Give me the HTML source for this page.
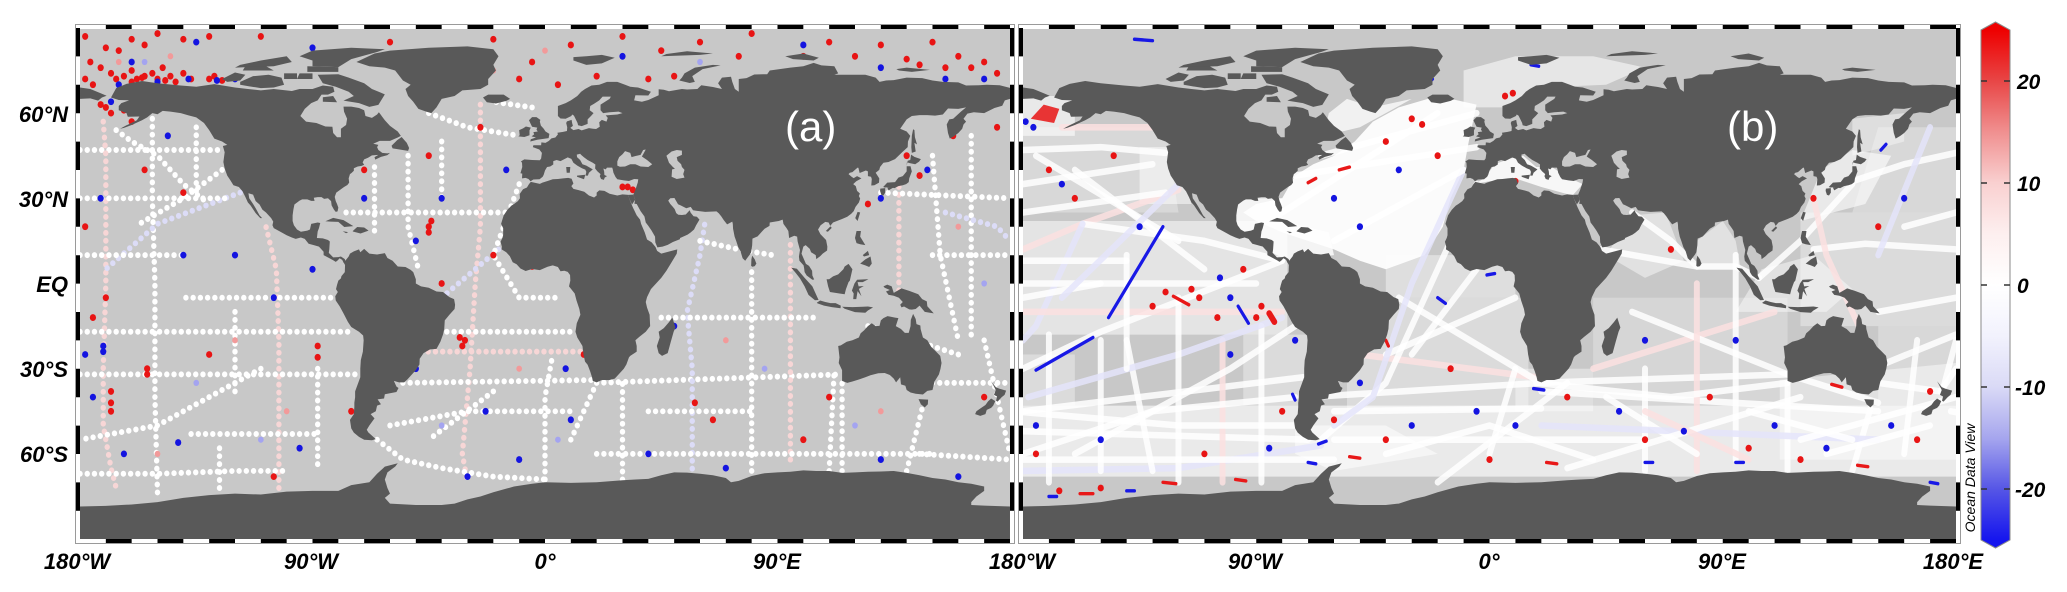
<!DOCTYPE html>
<html><head><meta charset="utf-8"><style>
html,body{margin:0;padding:0;background:#fff;}
body{width:2067px;height:592px;overflow:hidden;}
svg{display:block;}
.d{fill:none;stroke:#fff;stroke-width:2.1;stroke-linecap:round;stroke-linejoin:round;stroke-dasharray:0 2.8;}
.dp{stroke:#f7d6d6;}
.db{stroke:#dcdcf7;}
.w{fill:none;stroke:#fff;stroke-width:2.3;stroke-linecap:round;stroke-linejoin:round;opacity:.85;}
.wp{stroke:#fbe0e0;}
.wb{stroke:#e4e4fa;}
.sr{fill:none;stroke:#e81818;stroke-width:1.2;stroke-linecap:round;}
.sb{fill:none;stroke:#1818e6;stroke-width:1.2;stroke-linecap:round;}
.r circle{fill:#e81414;}
.b circle{fill:#1414e0;}
.pr circle{fill:#f29a9a;}
.pb circle{fill:#a4a4f0;}
.lab{font-family:"Liberation Sans",Arial,sans-serif;font-weight:bold;font-style:italic;font-size:22px;fill:#000;}
</style></head><body>
<svg width="2067" height="592" viewBox="0 0 2067 592" xmlns="http://www.w3.org/2000/svg">
<defs>
<clipPath id="ca"><rect x="80" y="29" width="930" height="510"/></clipPath>
<clipPath id="cb"><rect x="1023" y="29" width="933" height="510"/></clipPath>
<linearGradient id="cg" gradientUnits="userSpaceOnUse" x1="0" y1="30" x2="0" y2="540">
<stop offset="0" stop-color="#ee0000"/>
<stop offset="0.1" stop-color="#e84646"/>
<stop offset="0.2" stop-color="#f09090"/>
<stop offset="0.3" stop-color="#f9d0d0"/>
<stop offset="0.4" stop-color="#fdefef"/>
<stop offset="0.5" stop-color="#ffffff"/>
<stop offset="0.6" stop-color="#f2f2fd"/>
<stop offset="0.7" stop-color="#dadaf6"/>
<stop offset="0.8" stop-color="#a6a6ee"/>
<stop offset="0.9" stop-color="#5656e6"/>
<stop offset="1" stop-color="#1515ee"/>
</linearGradient>
<g id="land" fill="#595959">
<polygon points="-90,68.5 -86,69.7 -82,69.3 -81.5,67.5 -84,66.5 -86.5,66.5 -88,64.5 -90.5,63.5 -93,61.5 -94.7,59 -92.5,57 -88.5,56.5 -85,55.3 -82.3,55.2 -82,53 -80.5,51.5 -79,51.5 -79,54.5 -77,55.8 -76.6,58 -77.8,60.5 -78,62.3 -75,62.3 -72,61.8 -70,61 -69.5,59 -67,58.3 -65,59.5 -64.3,60.3 -62,57.5 -60,55.5 -57,53.5 -55.8,52 -57,51.4 -60,50.2 -64,50.2 -66.5,49.2 -64.5,48.8 -65,48 -64.5,47 -63,46 -61,45.8 -60,46 -61,45.2 -63.5,44.6 -65.7,43.6 -66,44.5 -64.5,45.3 -67,45.1 -68.5,44.3 -70,43.7 -70.6,42.6 -70,41.8 -71,41.4 -72.5,41.2 -74,40.6 -74,39.7 -74.9,38.9 -75.5,38.5 -76,37 -75.8,35.5 -76.5,34.7 -77.8,34 -79,33.2 -80.8,32 -81.4,30.5 -81,29 -80.5,28 -80,26.7 -80.3,25.4 -81,25.2 -81.7,26 -82.6,27.5 -82.8,29 -84,30 -85.5,29.8 -86.5,30.4 -88,30.4 -89.5,30.2 -89.2,29.1 -90.5,29.1 -92,29.6 -94,29.6 -95,29.2 -97,27.8 -97.4,26 -97.7,24 -97.7,22 -97.2,20.5 -96,19 -94.5,18.2 -92,18.6 -91,19 -90.5,21 -88,21.5 -87,21.3 -87.5,19.5 -88,18.3 -88.3,16 -86,15.9 -84,15.3 -83.3,14.8 -83.5,12 -83.7,10.8 -82,9.2 -80,9.3 -79,9.5 -77.5,8.6 -77.3,8 -77.9,7.2 -78.5,8.3 -79.5,8.9 -80.3,8.1 -81,7.6 -82,8.2 -83.6,9 -85.7,10 -85.7,11.2 -87.5,13 -89.5,13.5 -91.5,14 -93,15.7 -94.5,16.2 -96.5,15.7 -98,16.2 -100,17 -102,18 -105,19.5 -105.5,20.5 -105.2,21.8 -106,23 -108,25 -109.4,26 -110.5,27.8 -112,29 -113,31.3 -114.8,31.8 -114.5,30 -113,28 -112,26.5 -110.5,24 -109.5,23 -110.2,23 -112,24.8 -114,27.5 -115,28.5 -116,30.5 -117.1,32.5 -118.5,34 -120.6,34.6 -121.9,36.5 -123,38 -124,40.5 -124.5,42.8 -124,46.2 -124.7,48.4 -123,48.8 -125,50 -128,51 -130,54 -132,56.5 -135,58.5 -138,59.2 -141,60 -145,60.5 -148,60.8 -150,59.6 -152,60 -154,58.5 -156,57.5 -160,55.8 -163,54.8 -164.5,54.5 -162,55.7 -158,57.5 -157,58.8 -161.5,58.7 -162,60 -165,61 -165,62.5 -164,63.5 -161,64.5 -165,64.6 -168,65.5 -166,68.8 -162,70.3 -156,71.3 -150,70.5 -141,69.7 -135,69.3 -128,70.2 -120,69 -115,68.5 -110,68 -105,68.5 -98,67.8 -95,68.5"/>
<polygon points="-73,78 -66,81 -60,82 -45,83 -30,83.5 -20,82.5 -18,80 -20,77 -19,75 -22,72 -22,70 -25,68.5 -32,68 -35,66 -40,65 -42,62 -44,60 -46,60.5 -49,61.5 -51,64 -53,66 -54,68.5 -52,70 -55,71.5 -58,75 -62,76 -68,76.5"/>
<polygon points="-64.5,62.9 -62,66.6 -67,68.5 -70,70.5 -76,72.5 -80,73.7 -88,73.5 -86,70.5 -81,69.3 -76,67.5 -74,66 -78,64.4 -72,63.5 -68,62.2"/>
<polygon points="-86,64 -80.5,63.8 -82,66 -86,65.6"/>
<polygon points="-118,71 -113,73 -107,73.5 -102,72.5 -101,70 -105,69 -110,68.8 -115,69.5 -118,70"/>
<polygon points="-125,72 -120,74.3 -116,73.5 -118,71.5 -123,71"/>
<polygon points="-90,76.5 -80,76.2 -75,79 -65,81.5 -62,82.5 -75,83 -90,82 -95,80 -90,78.5"/>
<polygon points="-92,74.5 -80,74.5 -80,76.2 -92,76.5"/>
<polygon points="-120,76 -105,76.5 -98,78 -100,80 -110,78.5 -118,77"/>
<polygon points="-117,75 -105,75 -108,76.5 -116,76.5"/>
<polygon points="-101,72 -96,72 -96,74 -101,74"/>
<polygon points="-96,72 -90,72 -90,74 -95,74"/>
<polygon points="-59,47.6 -53,46.7 -52.6,47.7 -53.5,49.5 -55.5,51.6 -57.2,50.5 -59.4,48.5"/>
<polygon points="-24,65.5 -22,66.5 -16,66.5 -13.5,65 -15,64.3 -19,63.4 -22.5,63.8"/>
<polygon points="-85,21.9 -82,23.1 -78,22.3 -74.2,20.2 -77.7,19.9 -80,21.7 -83,21.8"/>
<polygon points="-74.4,18.5 -72.7,19.9 -70,19.7 -68.3,18.6 -71.4,17.6 -74.4,18.3"/>
<polygon points="-78.3,18.4 -76.2,18.1 -77,17.7"/>
<polygon points="-77.3,8 -76,9.5 -75.5,10.5 -74,11.3 -72,12 -71.5,11 -70,12.2 -68,10.5 -65,10.2 -62,10.7 -61,9 -59,8 -57,6 -54,5.8 -52,4.8 -51,4 -50,1.5 -50,0 -48,-1 -45,-1.5 -42,-2.8 -39.5,-3 -37,-4.8 -35.2,-5.5 -34.8,-7.5 -35,-9 -37,-11 -38.8,-13 -39,-16 -39.5,-18 -40.5,-20.5 -42,-23 -44.5,-23.2 -47,-24.5 -48.5,-26.5 -48.6,-28.5 -50,-30.5 -51.5,-32 -53.2,-33.7 -54.5,-34.8 -56.5,-34.8 -58.5,-34.3 -57.5,-36.3 -56.7,-36.8 -57.5,-38.2 -62,-39 -62.3,-40.5 -64.8,-40.8 -63.5,-42.5 -65,-43 -65.5,-45 -67.5,-46 -66,-47.5 -68,-50 -69,-51.5 -68.4,-52.4 -65.5,-54.8 -67,-55.2 -70,-55 -72,-54 -74,-52.5 -75,-51 -75.5,-48 -74,-46 -73.8,-43.5 -73.8,-42 -73.5,-40 -73.5,-38 -71.5,-33 -71.5,-30 -71.3,-27 -70.5,-24 -70.2,-20 -70.4,-18.3 -72,-17 -75,-15.3 -76.3,-13.5 -78,-10.5 -79.5,-8 -81,-6 -81.2,-4.5 -80.2,-3 -80.9,-2 -80.5,-0.5 -80,1 -79,1.8 -78.8,2.6 -77.5,4 -77.4,6.5 -78,7.5"/>
<polygon points="-17.2,14.7 -16.7,13 -16.8,12 -15,11 -13.6,9.6 -12.5,7.5 -11,6.8 -9.5,5.3 -7.5,4.4 -5,5.1 -2,4.7 1,5.9 3,6.4 5,5.8 6,4.3 7.5,4.5 8.8,4.1 9.7,3 9.8,1 9.3,-1 11.5,-3.5 12.2,-6 13.3,-9 13.7,-11 12.3,-14 11.8,-17 12.5,-19 14.5,-22 14.9,-25 15.5,-27.5 16.5,-28.6 17.5,-31 18.2,-33 18.5,-34.3 20,-34.8 22,-34 25,-34 27,-33.5 29,-31.5 30.5,-30 31.5,-28.5 32.5,-26 33,-25.5 35.5,-24 35.5,-22 35,-20 36.5,-18.8 39,-17 40.7,-15 40.5,-11 39.5,-8.5 39,-6.5 39.5,-4.8 41,-2 42.5,-0.5 45,2 47,4.5 49,7.5 51,10.5 51.2,12 49,11.5 45,10.5 43.4,11.5 42.8,12.8 41.3,14.5 39.5,15.5 38.6,18 37.2,21 36.8,22.5 35.5,24 34,26.8 32.6,29.9 32.3,31.2 30,31.4 28,31 25,31.6 23,32.6 21,32.8 20,32 20,31 19,30.3 17,31 15.2,32.3 13,32.9 11,33.3 10.2,34.3 11,35.2 10.3,36.9 9,37.2 7,37 5,36.8 3,36.7 1,36.1 -1,35.5 -2,35.1 -5.5,35.8 -6.2,35 -7,33.8 -8.5,33.2 -9.8,31.5 -9.7,30 -10.5,29 -12,28 -13,27.4 -14.5,26 -16,24 -17,21 -16.2,19.5 -16.2,17 -16.5,16"/>
<polygon points="32.3,31.2 32.6,29.9 33.7,27.8 34.9,29.5 34.2,31.3"/>
<polygon points="49.3,-12 50.5,-15.5 49.8,-17 48.7,-20.5 47.5,-24.5 45.3,-25.5 44,-24.5 43.3,-22 44.4,-19 44,-17 46,-15.7 48,-13.6"/>
<polygon points="-5.6,36 -6.4,36.8 -7.5,37.2 -8.9,37 -8.8,38.7 -9.5,38.8 -8.8,41 -8.9,42.5 -9.3,43 -8,43.7 -5,43.5 -2,43.4 -1.5,44 -1.2,46 -2.2,47.2 -4.7,48 -4.5,48.7 -1.5,48.7 -1.4,49.7 0.2,49.5 1.5,50.2 2.5,51.1 4,51.4 5,52.5 4.8,53.1 7,53.4 8.5,53.7 8.6,55 8.2,56.5 8.5,57.1 10.3,57.6 10.5,56.5 10.8,55.5 9.8,54.8 11,54 13,54.4 14.2,53.9 17,54.7 18.6,54.5 19.8,54.4 21.2,55.2 21,56.8 22,57.6 23.8,57 24.3,58.3 23.5,59.2 28,59.5 30,60 28.5,60.5 25,60.3 22.5,60 21.5,61 21.5,63 25,65 25.5,65.8 22.3,65.8 21,64.5 19,63.3 17.5,62.5 17.3,61 18.8,60 17.8,59 16.5,57.8 16.5,56.2 14.2,55.4 12.8,55.7 12.6,56.5 11.8,58 11.2,59.1 10.5,59.5 10.2,59 8,58 6,58.1 5,59 5,61 5,62.5 8,63.5 10,64.5 12.5,66 14,67.5 15.5,68.5 18,69.7 21,70 24,71 28,71 31,70 33,69.3 36,69 41,67.5 40,66.2 35,66.3 34.5,64.5 37.5,64 40,64.6 44,66.3 44,68.4 46,68.2 48,67.7 53,68.5 55,68.3 59,68.5 60.5,69.8 65,69.2 68.5,68.5 67,70.5 68.5,72.5 72,72.8 72.5,71 73.5,68.5 75,67.5 75,72 78,72.3 81,73.6 86,73.7 87,75 95,76 100,76.5 104,77.7 107,76.8 112,76.5 113.5,74 112,73.5 118,73.5 124,73.5 128,72.5 129.5,71 132,71.5 135,71.6 140,72.5 146,72.3 150,71.5 154,71 160,70.8 163,69.7 168,69.8 171,70 176,69.8 180,68.9 180,65 178,64.5 177,62.6 174,61.8 170,60 166,60.3 163.5,59.8 162,58 163,57 162,56 161.5,54.5 160,53 158.5,52 156.7,51 156,53 155.5,56 156.5,57.8 158,58 161,60.5 163,62 160,61.5 156,61.6 154,59.5 151,59.1 148,59.3 145,59.3 142,59 140,57.8 137.5,54.5 140,53.5 141.4,52 140.5,50 140.4,48 138,46 135.5,43.8 133,42.8 131,42.5 129.7,41 129.4,40 128,39 129.4,37 129.3,35.5 127.5,34.6 126.3,34.5 126.5,36.8 126.2,37.6 125,37.8 125,39.5 124.2,39.8 121.8,38.9 121.3,40.8 122.3,40.5 121,40.8 119,39.2 118,39 117.5,38.5 118.8,37.5 119.5,37.1 120.8,37.8 122.5,37 120.5,36 119.3,35 120.3,34.3 120.8,32.6 121.9,31.7 121.5,30.8 122,29.9 121.5,28.5 120.2,27 119.5,25.5 118.5,24.5 117,23.5 115,22.7 113.5,22.2 111.5,21.5 110.4,20.3 109.8,21.5 108.5,21.7 106.7,20.5 105.7,19 106.6,17.4 108.8,15.3 109.3,13 109.2,11.6 107.5,10.5 106.5,9.6 105,8.6 104.8,10 103,11 102.5,12.2 100.9,13.5 100,13 99.3,10.5 100.3,8.4 101,6.9 102.2,6.2 103.4,4.5 103.5,2.8 104.2,1.4 103.5,1.3 101.3,2.8 100.5,4 100.3,5.4 100.1,6.4 98.5,8 98.3,9.5 98.7,11.8 97.8,14.8 97.6,16.5 96.5,16.8 94.5,16 94.2,18.5 93.5,19.5 92.3,21 92,22.5 90.5,22 89,21.8 87,21.5 86.9,20.3 85,19.3 82.3,16.6 80.3,15.8 80.2,13.5 79.8,11 79.3,10.2 78.2,8.9 77.5,8 76.5,8.9 75.7,11.3 74.8,12.8 74,15 73.4,16.5 72.8,19.3 72.7,21 72.5,21.8 70.5,20.8 69.2,22.3 68.2,23.7 67.3,24.7 66.4,25.4 62,25.2 58.5,25.6 57.3,25.8 56.4,27 54.7,26.5 52.5,27.5 51.5,27.9 50.1,30.1 48.5,30 47.7,29.2 48.5,28 49.5,27 50.2,26.2 50.8,24.8 51.6,24.2 53,24.1 54.5,24.3 56,25.8 56.4,24.9 57.5,23.7 58.8,23.5 59.8,22.5 58.5,20.5 57.7,19 56.3,17.9 55.2,17.2 52.3,16 52.2,15.6 49.5,14.6 47.5,13.6 45.5,13 43.5,12.7 42.7,14.5 42.6,16.5 41.2,18.7 40,20.3 39,21.5 38.5,23.6 37,25.5 35.5,28 34.6,28.1 34.9,29.5 34.2,31.3 35,33 35.9,35.5 36.1,36.7 34.5,36.8 32.5,36.1 30.5,36.3 28,36.7 27.3,37.5 26.5,39 26.2,40.3 26,40.8 24,40.8 23.5,40.2 22.6,40.5 22.9,39.4 23,38.2 24,37.8 23.1,37.3 22.8,36.5 21.7,36.8 21.2,37.8 21.5,38.5 20.3,39.5 19.4,40.5 19.5,41.9 18.5,42.5 16.5,43.5 15,44.5 14,45.3 13.6,45.7 12.3,45.4 12.4,44.5 13.6,43.5 14.5,42 16,41.5 18.5,40.2 17,39 16.6,38 15.7,38 16,39.3 15.6,40.1 14.3,40.6 12.5,41.5 11,42.5 10.2,43.9 8.8,44.4 7.5,43.8 6,43.1 4.5,43.5 3.2,43.1 3.2,41.9 2,41.2 0.8,41 0,39.8 -0.5,38.3 -0.9,37.6 -2.1,36.7 -4.5,36.6"/>
<polygon points="-180,69 -176,68.5 -172,67 -169.7,66.1 -171.5,65.5 -173,64.4 -176,65.2 -180,65"/>
<polygon points="12.4,38 15.6,38.3 15.1,36.7 12.4,37.6"/>
<polygon points="8.2,41 9.8,41 9.6,39 8.4,39"/>
<polygon points="-5.7,50 -3,50.6 1.4,51.2 1.7,52.7 0.2,53.5 -0.5,54.5 -1.6,55.6 -2,57 -1.8,57.6 -3.3,58.6 -5,58.6 -6.2,57.5 -5.6,56.3 -5,55.2 -3,54.9 -3.3,54.2 -2.8,53.5 -4.5,53.3 -4.2,52.5 -5.2,51.8 -3.5,51.4 -5.5,50.8"/>
<polygon points="-6,52.2 -6,53.9 -5.5,54.9 -7.4,55.3 -8.5,54.6 -10,54 -9.8,52.2 -10.3,51.8 -8,51.6"/>
<polygon points="11,78.5 16,77 22,77.5 27,79.5 22,80.5 16,80 11,79.7"/>
<polygon points="52,71.5 56,70.6 58,71 57,73 61,75.5 68,76.8 65,77 58,76 54,74 53,72.5"/>
<polygon points="96,79 104,78.5 106,79.5 100,81 93,80"/>
<polygon points="137,75 142,74.5 149,75.2 140,76 136,75.5"/>
<polygon points="45,80 60,80.5 65,81 55,81.8 47,80.8"/>
<polygon points="142,46 143.5,46.5 143,49.5 144,49 143.2,51.5 143,54 142.5,54.3 142,52 141.8,48"/>
<polygon points="130.9,34 132.5,35.5 135.5,35.7 136.8,37.3 138.5,37.8 140,39.5 140,41.3 141.5,41.3 142,39.5 141,37 140.8,35.7 139.8,35 138.5,34.6 136.8,34.3 135.3,33.6 133.5,33.9 131.5,33.8"/>
<polygon points="129.8,33.4 131.7,33.6 131.7,32 131,31 130.2,31.2 129.7,32.6"/>
<polygon points="132.5,33.8 134.6,34.2 134.7,33.7 133,32.8"/>
<polygon points="140,41.5 140.4,43.2 141.4,43.5 141.7,45.4 143,44.6 145.5,43.8 144.8,42.9 143.3,42 141.2,42.4 140.1,42.7"/>
<polygon points="120.1,23 121,25.2 122,25 121,22"/>
<polygon points="108.7,18.5 110.5,20.1 111,19.6 109.5,18.2"/>
<polygon points="120,16 120.6,18.5 122.3,18.5 122,16.5 124,13.5 122,13.8 120.6,14.2"/>
<polygon points="122,7 124,8.5 126,9.5 126.5,7 125.5,5.8 124,6.4"/>
<polygon points="123,10 125,11.5 125.5,10 123.5,9.5"/>
<polygon points="109,1.5 109.6,-1 110.3,-3 114,-3.5 116,-3.8 116.5,-2 117.5,0.5 118,1 119,5 117.5,6.9 116,6 115.5,5 113.5,3.2 111.5,2.5 110,1.5"/>
<polygon points="95.3,5.6 97.5,5.2 100.5,2 103.5,-1 105.9,-5.8 104.5,-5.9 102,-4 100.5,-1 98.7,1.8 97,3.8"/>
<polygon points="105.2,-6.8 106.5,-6 108.5,-6.5 110.5,-6.9 112.5,-6.9 114.5,-7.8 114.4,-8.7 111,-8.3 108,-7.8 105.5,-7"/>
<polygon points="119.3,-5.5 119.5,-3.5 118.8,-2.5 119.8,0 120.8,1.3 124.5,1.5 125.2,1.5 123,0.5 121,0.5 121.4,-1 123.4,-0.9 121.5,-1.9 122.5,-4.5 121,-2.7 120.5,-5.5"/>
<polygon points="115,-8.2 119,-8.3 123,-8.2 125,-8.1 127,-8.4 125,-9.5 124,-10.3 120,-10.1 116,-8.9"/>
<polygon points="131,-1 132.5,-0.4 134.2,-1 135,-3.3 138,-1.7 141,-2.6 144.5,-3.8 146,-5.5 147.8,-6.3 148,-8 150.5,-10.5 149,-10.3 147,-10 145,-7.8 143.5,-9 142,-9.2 141,-9.1 139,-8.1 138,-8.4 137.5,-7.5 138.5,-6.5 137,-5 135,-4.3 133,-4 132,-2.8 133.5,-2.3 131.5,-1.5"/>
<polygon points="79.8,6.2 79.9,8.5 80.2,9.8 81.2,8.5 81.8,7 81.2,6.1 80.3,5.9"/>
<polygon points="113.5,-22 114,-26 113.7,-28 115,-30.5 115,-33.5 115,-34.3 117,-35 119,-34.5 121.5,-33.8 124,-33 126,-32.3 129,-31.6 131.5,-31.5 133.5,-32.2 135,-33.5 135.9,-34.8 137.5,-33 137.8,-35.5 139.5,-36 140,-37.5 141.5,-38.4 143.5,-38.8 146.3,-39.1 148,-37.8 150,-37.5 150.8,-34.5 152.5,-32 153.1,-30 153.5,-28 153,-25.5 151.2,-23.8 149.5,-22.3 148,-20 146.3,-19 145.4,-16 145.3,-14.8 143.8,-14.3 143.5,-12.5 142.5,-10.7 141.6,-12.8 141.5,-15 140.8,-17.4 139.3,-17.4 137.8,-16 135.8,-15 136.8,-12.2 135.5,-12 132.6,-11.5 131,-12.2 130,-13 129.5,-14.9 128,-15 126.5,-14 125,-15 123.5,-16.5 122.2,-17.5 121.5,-19 119,-20 116.8,-20.5 114.5,-21.8"/>
<polygon points="144.6,-40.7 148.3,-40.9 148.2,-42.5 147,-43.6 145.5,-42.5"/>
<polygon points="172.7,-34.4 174.5,-36.5 175.8,-37 178.5,-37.7 177.9,-39.2 176.8,-40 175.2,-41.6 174.6,-41.3 175,-39.8 173.8,-39.2 174.5,-37.5"/>
<polygon points="172.7,-40.5 174.3,-41.4 173.5,-43 172.7,-43.8 171,-44.5 170.5,-46 168.5,-46.6 166.5,-46 167,-45 168.5,-44 170.5,-42.8 171.5,-41.5"/>
<polygon points="-180,-78.5 -170,-78.3 -160,-77.8 -150,-77 -140,-75.5 -130,-74.5 -120,-74 -110,-74.3 -100,-73.3 -90,-73 -80,-73 -75,-71 -68,-70 -65,-67 -62,-64.5 -57,-63.3 -58,-64.5 -61,-66.5 -62,-69 -61,-72 -60,-74 -62,-75.5 -60,-77.5 -50,-78 -40,-78 -35,-77.5 -30,-76 -25,-75 -20,-73.5 -12,-71.5 -5,-70.5 0,-70 10,-70.2 20,-70 30,-69.3 35,-69 40,-68.8 45,-67.5 50,-66.5 55,-66.6 60,-67 65,-67.5 70,-68.5 72,-70 75,-69.5 80,-67.8 85,-66.8 90,-66.5 95,-66.3 100,-65.8 105,-66 110,-66 115,-66.7 120,-66.5 125,-66.3 130,-66.2 135,-66 140,-66.7 145,-67.5 150,-68.5 155,-69 160,-70 165,-70.5 170,-71.5 170,-73 167,-75 165,-77 165,-78 170,-78.2 180,-78.5 180,-90 -180,-90"/>
</g>
<g id="seas" fill="#c8c8c8">
<polygon points="28,41.5 28,43 28.7,44.5 30,45.5 31,46.6 33,46 33.5,44.5 35.5,45 37,45.3 38,47 39,47.2 38,45.5 37.5,44.7 39.5,43.5 41.5,42 40,41 37,41.2 35,42 33,42 31,41.2 29,41.1"/>
<polygon points="47,45 49,46.5 51,47 53,46.8 53,45.3 51,44.5 51.3,43.2 52.7,42 53,41 54,40 53.5,38.5 54,37.3 51,36.8 49,37.6 49.2,40.2 50.3,40.4 49.5,41 48,42.5 47.5,43.8"/>
</g>
</defs>

<!-- ================= PANEL A ================= -->
<rect x="76" y="25" width="938" height="518" fill="#fff"/>
<rect x="80" y="29" width="930" height="510" fill="#c8c8c8"/>
<g clip-path="url(#ca)">
<g transform="translate(545,283.5) scale(2.5833,-2.84)">
<g>
<path class="d" d="M-180 47L-125 47"/>
<path class="d dp" d="M-171 57L-170 45L-170 20L-170 0L-171 -30L-171 -50L-168 -65L-166 -72"/>
<path class="d" d="M-152 58L-152 30L-151 0L-151 -40L-150 -74"/>
<path class="d" d="M-135 55L-135 30"/>
<path class="d" d="M-126 -58L-126 -72"/>
<path class="d dp" d="M-103 -72L-103 -40L-103 -20L-104 5L-108 20"/>
<path class="d" d="M-180 -67L-150 -67L-120 -66L-100 -66"/>
<path class="d" d="M-180 -32L-72 -32"/>
<path class="d" d="M-180 -17L-76 -17"/>
<path class="d" d="M-125 40L-140 30L-157 21"/>
<path class="d db" d="M-118 32L-150 21L-170 5"/>
<path class="d" d="M-166 54L-160 50L-150 45L-140 35L-130 28"/>
<path class="d" d="M-180 10L-140 10"/>
<path class="d" d="M-88 -30L-88 -66"/>
<path class="d" d="M-83 -5L-140 -5"/>
<path class="d" d="M-110 -30L-150 -50L-180 -55"/>
<path class="d" d="M-120 -10L-120 -40"/>
<path class="d" d="M-137 -53L-87 -53"/>
<path class="d" d="M-180 30L-122 30"/>
<path class="d dp" d="M-25 63L-25 40L-25 20L-27 0L-29 -30L-32 -60L-30 -70"/>
<path class="d" d="M-66 41L-66 18"/>
<path class="d" d="M-53 45L-53 20L-49 5"/>
<path class="d" d="M-77 25L-15 25"/>
<path class="d" d="M-38 -17L12 -17"/>
<path class="d dp" d="M-48 -24L14 -24"/>
<path class="d" d="M-55 -35L18 -34"/>
<path class="d" d="M-65 -55L-55 -62L-40 -65L-20 -68L0 -69"/>
<path class="d" d="M0 -69L0 -40L3 -25"/>
<path class="d" d="M10 -55L20 -35"/>
<path class="d" d="M-45 60L-30 55L-10 52"/>
<path class="d db" d="M-18 12L-40 -5"/>
<path class="d" d="M-20 -38L-45 -55"/>
<path class="d" d="M-5 62L-20 64"/>
<path class="d" d="M-40 50L-40 28"/>
<path class="d" d="M-60 -50L-30 -45L10 -45"/>
<path class="d" d="M-10 35L-20 10L-10 -5L5 -5"/>
<path class="d" d="M20 -35L115 -32"/>
<path class="d db" d="M57 -68L57 -30L55 -10L60 10L62 22"/>
<path class="d" d="M80 -66L80 5"/>
<path class="d dp" d="M95 -62L95 15"/>
<path class="d" d="M110 -66L112 -30"/>
<path class="d" d="M45 -12L105 -12"/>
<path class="d" d="M30 -69L30 -35"/>
<path class="d" d="M140 -66L146 -44"/>
<path class="d" d="M115 -66L115 -35"/>
<path class="d" d="M20 -60L150 -60"/>
<path class="d" d="M40 -45L80 -45"/>
<path class="d dp" d="M137 34L137 -3"/>
<path class="d" d="M150 45L153 10L160 -20"/>
<path class="d" d="M165 52L165 -20"/>
<path class="d" d="M170 -20L175 -40L180 -60"/>
<path class="d" d="M150 -35L180 -35"/>
<path class="d" d="M130 32L180 30"/>
<path class="d" d="M150 10L180 10"/>
<path class="d" d="M145 -60L180 -62"/>
<path class="d db" d="M155 25L175 20L180 15"/>
<path class="d" d="M60 15L75 12L88 10"/>
<path class="d" d="M125 -15L160 -25"/>
</g>
<g class="r">
<circle cx="-178" cy="87" r="1.2"/><circle cx="-170" cy="83" r="1.2"/><circle cx="-165" cy="82" r="1.2"/><circle cx="-160" cy="86" r="1.2"/><circle cx="-155" cy="84" r="1.2"/><circle cx="-150" cy="88" r="1.2"/><circle cx="-140" cy="86" r="1.2"/><circle cx="-130" cy="87" r="1.2"/><circle cx="-176" cy="78" r="1.2"/><circle cx="-172" cy="76" r="1.2"/><circle cx="-168" cy="74" r="1.2"/><circle cx="-166" cy="72" r="1.2"/><circle cx="-163" cy="73" r="1.2"/><circle cx="-160" cy="75" r="1.2"/><circle cx="-158" cy="72" r="1.2"/><circle cx="-155" cy="73" r="1.2"/><circle cx="-152" cy="74" r="1.2"/><circle cx="-150" cy="72" r="1.2"/><circle cx="-148" cy="76" r="1.2"/><circle cx="-145" cy="73" r="1.2"/><circle cx="-143" cy="71" r="1.2"/><circle cx="-140" cy="74" r="1.2"/><circle cx="-137" cy="72" r="1.2"/><circle cx="-130" cy="72" r="1.2"/><circle cx="-128" cy="73" r="1.2"/><circle cx="-125" cy="71.5" r="1.2"/><circle cx="-175" cy="70" r="1.2"/><circle cx="-178" cy="72" r="1.2"/><circle cx="-174" cy="66" r="1.2"/><circle cx="-170" cy="62" r="1.2"/><circle cx="-168" cy="60" r="1.2"/><circle cx="-172" cy="63" r="1.2"/><circle cx="-163" cy="61" r="1.2"/><circle cx="-160" cy="71" r="1.2"/><circle cx="-156" cy="72.5" r="1.2"/><circle cx="-147" cy="71.5" r="1.2"/><circle cx="-110" cy="87" r="1.2"/><circle cx="-60" cy="85" r="1.2"/><circle cx="-20" cy="86" r="1.2"/><circle cx="10" cy="84" r="1.2"/><circle cx="30" cy="87" r="1.2"/><circle cx="45" cy="82" r="1.2"/><circle cx="60" cy="85" r="1.2"/><circle cx="80" cy="88" r="1.2"/><circle cx="110" cy="85" r="1.2"/><circle cx="120" cy="80" r="1.2"/><circle cx="130" cy="84" r="1.2"/><circle cx="140" cy="79" r="1.2"/><circle cx="150" cy="85" r="1.2"/><circle cx="160" cy="80" r="1.2"/><circle cx="165" cy="76" r="1.2"/><circle cx="170" cy="78" r="1.2"/><circle cx="175" cy="74" r="1.2"/><circle cx="155" cy="76" r="1.2"/><circle cx="145" cy="77" r="1.2"/><circle cx="100" cy="80" r="1.2"/><circle cx="75" cy="80" r="1.2"/><circle cx="-5" cy="78" r="1.2"/><circle cx="-10" cy="72" r="1.2"/><circle cx="5" cy="70" r="1.2"/><circle cx="20" cy="73" r="1.2"/><circle cx="40" cy="72" r="1.2"/><circle cx="50" cy="73" r="1.2"/>
<circle cx="-140" cy="32" r="1.2"/><circle cx="-178" cy="20" r="1.2"/><circle cx="-170" cy="-5" r="1.2"/><circle cx="-155" cy="40" r="1.2"/><circle cx="-130" cy="-25" r="1.2"/><circle cx="-168" cy="-38" r="1.2"/><circle cx="-168" cy="-42" r="1.2"/><circle cx="-168" cy="-45" r="1.2"/><circle cx="-88" cy="-22" r="1.2"/><circle cx="-88" cy="-26" r="1.2"/><circle cx="-31" cy="-20" r="1.2"/><circle cx="-32" cy="-22" r="1.2"/><circle cx="-33" cy="-19" r="1.2"/><circle cx="-45" cy="-5" r="1.2"/><circle cx="-47" cy="-3" r="1.2"/><circle cx="-20" cy="10" r="1.2"/><circle cx="-5" cy="6" r="1.2"/><circle cx="32" cy="34" r="1.2"/><circle cx="34" cy="33" r="1.2"/><circle cx="30" cy="34" r="1.2"/><circle cx="-75" cy="-45" r="1.2"/><circle cx="-105" cy="-68" r="1.2"/><circle cx="65" cy="-48" r="1.2"/><circle cx="110" cy="-40" r="1.2"/><circle cx="150" cy="-30" r="1.2"/><circle cx="170" cy="-40" r="1.2"/><circle cx="-175" cy="-12" r="1.2"/><circle cx="140" cy="45" r="1.2"/><circle cx="145" cy="38" r="1.2"/><circle cx="158" cy="52" r="1.2"/><circle cx="175" cy="55" r="1.2"/><circle cx="-160" cy="57" r="1.2"/><circle cx="-70" cy="40" r="1.2"/><circle cx="-45" cy="45" r="1.2"/><circle cx="-25" cy="55" r="1.2"/><circle cx="-40" cy="0" r="1.2"/><circle cx="15" cy="-25" r="1.2"/><circle cx="125" cy="28" r="1.2"/><circle cx="58" cy="-42" r="1.2"/><circle cx="100" cy="-55" r="1.2"/><circle cx="-45" cy="20" r="1.2"/><circle cx="-45" cy="18" r="1.2"/><circle cx="-44" cy="22" r="1.2"/><circle cx="-154" cy="-30" r="1.2"/><circle cx="-154" cy="-32" r="1.2"/>
</g>
<g class="b">
<circle cx="-165" cy="70" r="1.2"/><circle cx="-150" cy="71" r="1.2"/><circle cx="-138" cy="72" r="1.2"/><circle cx="-127" cy="71.5" r="1.2"/><circle cx="-120" cy="72" r="1.2"/><circle cx="-176" cy="67" r="1.2"/><circle cx="-168" cy="64" r="1.2"/><circle cx="-160" cy="78" r="1.2"/><circle cx="-135" cy="85" r="1.2"/><circle cx="-90" cy="83" r="1.2"/><circle cx="30" cy="80" r="1.2"/><circle cx="-30" cy="80" r="1.2"/><circle cx="100" cy="84" r="1.2"/><circle cx="130" cy="76" r="1.2"/><circle cx="155" cy="72" r="1.2"/><circle cx="170" cy="72" r="1.2"/><circle cx="-172" cy="30" r="1.2"/><circle cx="-146" cy="52" r="1.2"/><circle cx="-105" cy="-5" r="1.2"/><circle cx="-120" cy="10" r="1.2"/><circle cx="-163" cy="-60" r="1.2"/><circle cx="-142" cy="-56" r="1.2"/><circle cx="-95" cy="-58" r="1.2"/><circle cx="-30" cy="-68" r="1.2"/><circle cx="-10" cy="-62" r="1.2"/><circle cx="40" cy="-60" r="1.2"/><circle cx="70" cy="-65" r="1.2"/><circle cx="130" cy="-62" r="1.2"/><circle cx="160" cy="-68" r="1.2"/><circle cx="-175" cy="-40" r="1.2"/><circle cx="-178" cy="-25" r="1.2"/><circle cx="50" cy="-15" r="1.2"/><circle cx="-50" cy="-30" r="1.2"/><circle cx="-23" cy="-45" r="1.2"/><circle cx="10" cy="-48" r="1.2"/><circle cx="-15" cy="40" r="1.2"/><circle cx="-40" cy="30" r="1.2"/><circle cx="-70" cy="30" r="1.2"/><circle cx="-90" cy="5" r="1.2"/><circle cx="130" cy="30" r="1.2"/><circle cx="148" cy="40" r="1.2"/><circle cx="-140" cy="10" r="1.2"/><circle cx="-50" cy="15" r="1.2"/><circle cx="8" cy="-30" r="1.2"/><circle cx="-171" cy="-22" r="1.2"/><circle cx="-171" cy="-24" r="1.2"/><circle cx="-75" cy="-12" r="1.2"/>
</g>
<g class="pr">
<circle cx="-165" cy="78" r="1.1"/><circle cx="-145" cy="80" r="1.1"/><circle cx="-120" cy="-20" r="1.1"/><circle cx="-60" cy="5" r="1.1"/><circle cx="-10" cy="-30" r="1.1"/><circle cx="70" cy="-20" r="1.1"/><circle cx="130" cy="-45" r="1.1"/><circle cx="-100" cy="-45" r="1.1"/><circle cx="160" cy="20" r="1.1"/><circle cx="-150" cy="-60" r="1.1"/><circle cx="-20" cy="75" r="1.1"/><circle cx="0" cy="82" r="1.1"/>
</g>
<g class="pb">
<circle cx="-155" cy="78" r="1.1"/><circle cx="-135" cy="-35" r="1.1"/><circle cx="-65" cy="-5" r="1.1"/><circle cx="5" cy="-55" r="1.1"/><circle cx="85" cy="-30" r="1.1"/><circle cx="120" cy="-50" r="1.1"/><circle cx="-110" cy="-55" r="1.1"/><circle cx="170" cy="0" r="1.1"/><circle cx="-40" cy="-50" r="1.1"/><circle cx="60" cy="78" r="1.1"/>
</g>
<use href="#land"/>
<use href="#seas"/>
</g>
</g>
<rect x="75.5" y="24.5" width="939" height="519" fill="none" stroke="#9a9a9a" stroke-width="1"/>
<g stroke="#000" stroke-width="4" fill="none">
<line x1="80" y1="27" x2="1010" y2="27" stroke-dasharray="25.833 25.833" stroke-dashoffset="25.833"/>
<line x1="80" y1="541" x2="1010" y2="541" stroke-dasharray="25.833 25.833" stroke-dashoffset="25.833"/>
<line x1="78" y1="28" x2="78" y2="539" stroke-dasharray="28.4 28.4"/>
<line x1="1012" y1="28" x2="1012" y2="539" stroke-dasharray="28.4 28.4"/>
</g>
<text x="785" y="141" font-family="Liberation Sans, Arial, sans-serif" font-size="42" fill="#fff">(a)</text>

<!-- ================= PANEL B ================= -->
<rect x="1019" y="25" width="941" height="518" fill="#fff"/>
<rect x="1023" y="29" width="933" height="510" fill="#c8c8c8"/>
<g clip-path="url(#cb)">
<g transform="translate(1489.5,283.5) scale(2.5917,-2.84)">
<g fill="#fff">
<polygon opacity=".92" points="-80,30 -75,38 -68,42 -60,45 -52,50 -45,57 -35,62 -20,66 -5,63 -8,50 -10,40 -15,30 -18,20 -25,10 -40,5 -50,8 -60,12 -70,15 -80,18 -90,22 -95,25 -90,28"/>
<polygon opacity=".8" points="-98,18 -98,30 -80,30 -80,22 -62,18 -60,10 -78,8 -86,12"/>
<polygon opacity=".85" points="-6,35 0,36 10,37 20,34 32,31 36,35 30,37.5 24,41 18,41 13,45 8,44 2,42 -2,37"/>
<polygon opacity=".75" points="-64,52 -50,55 -40,60 -30,65 -45,62 -55,65 -62,60"/>
<polygon opacity=".55" points="-10,62 10,62 20,69 45,70 60,76 40,80 10,80 -10,75"/>
<polygon opacity=".62" points="-180,-43 180,-43 180,-68 -180,-68"/>
<polygon opacity=".45" points="112,-34 180,-28 180,-62 112,-62"/>
<polygon opacity=".5" points="-75,-50 -40,-50 -20,-60 -60,-66 -75,-60"/>
<polygon opacity=".3" points="-180,25 -120,25 -125,55 -180,55"/>
<polygon opacity=".3" points="140,25 180,25 180,55 150,55"/>
<polygon opacity=".6" points="120,22 145,28 155,45 140,47 128,40"/>
<polygon opacity=".5" points="-135,28 -115,28 -122,48 -135,48"/>
<polygon opacity=".45" points="45,10 55,24 68,25 75,8 60,2"/>
<polygon opacity=".45" points="80,5 80,15 90,22 95,15 97,5"/>
<polygon opacity=".45" points="95,-10 105,5 125,10 140,-2 130,-10"/>
<polygon opacity=".5" points="-180,-18 -78,-18 -78,22 -180,22"/>
<polygon opacity=".35" points="120,-15 180,-15 180,25 120,25"/>
<polygon opacity=".6" points="-180,52 -160,52 -160,66 -180,66"/>
<polygon opacity=".4" points="140,45 160,50 160,60 140,58"/>
<polygon opacity=".4" points="10,-30 40,-30 40,-45 10,-45"/>
<polygon opacity=".35" points="-55,-45 15,-45 15,-5 -55,-5"/>
<polygon opacity=".4" points="-40,-5 10,-5 10,10 -40,10"/>
<polygon opacity=".35" points="-180,-25 -160,-25 -160,-43 -180,-43"/>
<polygon opacity=".25" points="40,-43 115,-43 115,-5 40,-5"/>
<polygon opacity=".35" points="-95,-43 -70,-43 -70,-18 -95,-18"/>
<polygon opacity=".3" points="150,-43 180,-43 180,-15 150,-15"/>
</g>
<g>
<path class="w" d="M-125 46L-150 48L-180 47"/>
<path class="w" d="M140 36L160 42L180 46"/>
<path class="w wp" d="M-120 33L-157 21L-180 12"/>
<path class="w" d="M180 12L145 14L125 12"/>
<path class="w" d="M-80 8L-110 15L-157 21"/>
<path class="w wb" d="M-157 21L-175 -15L-180 -20"/>
<path class="w" d="M180 -20L175 -37"/>
<path class="w" d="M-80 8L-150 -17L-180 -30"/>
<path class="w" d="M180 -30L174 -38"/>
<path class="w wp" d="M-80 -10L-180 -10"/>
<path class="w" d="M-180 0L-90 0"/>
<path class="w" d="M-180 8L-140 8"/>
<path class="w" d="M-72 -33L-180 -45"/>
<path class="w" d="M-70 -55L-180 -52"/>
<path class="w wb" d="M-65 -57L-120 -65L-180 -66"/>
<path class="w" d="M-150 -20L-150 -66"/>
<path class="w" d="M-170 -18L-170 -70"/>
<path class="w wp" d="M-103 -20L-103 -70"/>
<path class="w" d="M-88 -15L-88 -70"/>
<path class="w" d="M-130 -66L-140 -20"/>
<path class="w" d="M-160 -60L-100 -30L-75 -15"/>
<path class="w wb" d="M-178 -40L-120 -25L-80 -12"/>
<path class="w" d="M-180 -60L-130 -45L-75 -40"/>
<path class="w" d="M-70 -40L20 -35"/>
<path class="w" d="M-60 -45L20 -44"/>
<path class="w wp" d="M-50 -25L18 -33"/>
<path class="w" d="M-35 -5L18 -34"/>
<path class="w" d="M-40 -25L10 -5"/>
<path class="w" d="M-5 35L-40 -35L-65 -55"/>
<path class="w wb" d="M-10 40L-30 0L-45 -40L-60 -50"/>
<path class="w" d="M-60 -55L30 -55L60 -55"/>
<path class="w" d="M18 -35L115 -32"/>
<path class="w wp" d="M40 -30L110 -10"/>
<path class="w" d="M55 -10L115 -32"/>
<path class="w" d="M20 -38L150 -45"/>
<path class="w" d="M60 -66L60 -30"/>
<path class="w wp" d="M80 -66L80 0"/>
<path class="w" d="M95 -62L95 10"/>
<path class="w" d="M115 -66L115 -35"/>
<path class="w" d="M140 -66L147 -44"/>
<path class="w" d="M45 -40L80 -60"/>
<path class="w wb" d="M20 -50L150 -55"/>
<path class="w" d="M30 -65L120 -40"/>
<path class="w" d="M43 12L80 6L95 6L104 2"/>
<path class="w" d="M55 25L70 15L80 6"/>
<path class="w" d="M104 2L120 15L140 35"/>
<path class="w wp" d="M150 -30L130 10L125 30"/>
<path class="w" d="M153 -28L180 -18"/>
<path class="w" d="M18 -35L70 -40L115 -35"/>
<path class="w" d="M150 -35L174 -38"/>
<path class="w" d="M178 -45L180 -45.3"/>
<path class="w" d="M-180 -45.3L-120 -50L-75 -50"/>
<path class="w" d="M-75 38L-5 48"/>
<path class="w" d="M-60 15L-10 40"/>
<path class="w" d="M-80 25L-20 60"/>
<path class="w" d="M-65 45L-5 60"/>
<path class="w" d="M-30 -25L-5 5"/>
<path class="w" d="M0 -60L10 -30"/>
<path class="w" d="M-20 -70L30 -35"/>
<path class="w" d="M165 -20L160 -60"/>
<path class="w wb" d="M170 55L150 10"/>
<path class="w" d="M-140 10L-140 -30"/>
<path class="w" d="M-120 -70L-120 -5"/>
<path class="w" d="M160 20L180 25"/>
<path class="w" d="M-180 25L-125 32"/>
<path class="w" d="M115 -32L150 -42"/>
<path class="w" d="M-180 -62L-60 -62"/>
<path class="w" d="M-180 35L-130 42"/>
<path class="w wp" d="M-165 55L-130 55"/>
<path class="w" d="M150 -10L180 -5"/>
<path class="w" d="M-180 -5L-150 0"/>
<path class="w" d="M-160 40L-110 5"/>
<path class="w" d="M-175 45L-120 15"/>
<path class="w wb" d="M-165 -5L-120 35"/>
<path class="w" d="M130 -60L170 -50"/>
<path class="w" d="M120 -55L180 -40"/>
<path class="w" d="M-40 -60L0 -50L40 -62"/>
<path class="w wp" d="M60 -45L100 -62"/>
<path class="w" d="M100 -45L140 -55"/>
</g>
<polygon points="-177,58 -172,63 -166,61.5 -168,56.5" fill="#e82020" opacity=".9"/>
<path class="sb" d="M-175 -30.5L-153 -19"/>
<path class="sb" d="M-147 -12L-126 20"/>
<path class="sb" d="M-97 -8L-93 -14"/>
<path class="sb" d="M-137 86L-130 85.5"/>
<path class="sb" d="M-170 -75L-167 -75"/>
<path class="sb" d="M-140 -73L-137 -73"/>
<path class="sb" d="M-70 -63L-67 -63.5"/>
<path class="sb" d="M60 -63L63 -63"/>
<path class="sb" d="M95 -63L98 -63"/>
<path class="sb" d="M170 -70L173 -70.5"/>
<path class="sb" d="M-24 70L-22 72"/>
<path class="sb" d="M16 77L19 76.5"/>
<path class="sb" d="M151 47L153 49"/>
<path class="sb" d="M-1 3L2 3.5"/>
<path class="sb" d="M17 -37L21 -37.5"/>
<path class="sb" d="M-66 -56.5L-63 -55.5"/>
<path class="sb" d="M-76 -39L-75 -41"/>
<path class="sb" d="M-20 -5L-17 -7"/>
<path class="sr" d="M-122 -4.5L-116 -7.5"/>
<path class="sr" d="M-85 -10.5L-83 -13.5" style="stroke-width:2.2"/>
<path class="sr" d="M-158 -74L-153 -74"/>
<path class="sr" d="M-126 -70L-121 -70.5"/>
<path class="sr" d="M-98 -69L-94 -69.5"/>
<path class="sr" d="M-54 -61L-50 -61.5"/>
<path class="sr" d="M22 -63L26 -63.5"/>
<path class="sr" d="M142 -64L146 -64.5"/>
<path class="sr" d="M139 36L141 39"/>
<path class="sr" d="M-58 40L-54 41"/>
<path class="sr" d="M-70 35.5L-67 37"/>
<path class="sr" d="M132 -35.5L136 -36.5"/>
<path class="sr" d="M-40 -20L-39 -22"/>
<g class="r">
<circle cx="-170" cy="40" r="1.2"/><circle cx="-160" cy="30" r="1.2"/><circle cx="-145" cy="45" r="1.2"/><circle cx="-115" cy="-2" r="1.2"/><circle cx="-105" cy="-12" r="1.2"/><circle cx="-130" cy="-8" r="1.2"/><circle cx="-95" cy="5" r="1.2"/><circle cx="-60" cy="-48" r="1.2"/><circle cx="-40" cy="-55" r="1.2"/><circle cx="0" cy="-62" r="1.2"/><circle cx="60" cy="-55" r="1.2"/><circle cx="100" cy="-58" r="1.2"/><circle cx="120" cy="-62" r="1.2"/><circle cx="165" cy="-55" r="1.2"/><circle cx="-175" cy="-60" r="1.2"/><circle cx="-40" cy="50" r="1.2"/><circle cx="-20" cy="45" r="1.2"/><circle cx="30" cy="-40" r="1.2"/><circle cx="45" cy="15" r="1.2"/><circle cx="70" cy="12" r="1.2"/><circle cx="125" cy="30" r="1.2"/><circle cx="170" cy="-38" r="1.2"/><circle cx="-80" cy="-45" r="1.2"/><circle cx="-15" cy="-30" r="1.2"/><circle cx="85" cy="-40" r="1.2"/><circle cx="-5" cy="40" r="1.2"/><circle cx="10" cy="36" r="1.2"/><circle cx="-110" cy="-60" r="1.2"/><circle cx="150" cy="20" r="1.2"/><circle cx="-166" cy="-73" r="1.2"/><circle cx="-150" cy="-72" r="1.2"/><circle cx="-90" cy="-12" r="1.2"/><circle cx="-88" cy="-8" r="1.2"/><circle cx="-112" cy="-5" r="1.2"/><circle cx="-125" cy="-3" r="1.2"/><circle cx="-30" cy="58" r="1.2"/><circle cx="-26" cy="56" r="1.2"/><circle cx="6" cy="66" r="1.2"/><circle cx="9" cy="67" r="1.2"/>
</g>
<g class="b">
<circle cx="-165" cy="35" r="1.2"/><circle cx="-135" cy="20" r="1.2"/><circle cx="-100" cy="-25" r="1.2"/><circle cx="-75" cy="-20" r="1.2"/><circle cx="-50" cy="-35" r="1.2"/><circle cx="-30" cy="-50" r="1.2"/><circle cx="10" cy="-50" r="1.2"/><circle cx="50" cy="-45" r="1.2"/><circle cx="75" cy="-52" r="1.2"/><circle cx="110" cy="-50" r="1.2"/><circle cx="155" cy="-50" r="1.2"/><circle cx="-175" cy="-50" r="1.2"/><circle cx="-150" cy="-55" r="1.2"/><circle cx="-60" cy="30" r="1.2"/><circle cx="-35" cy="40" r="1.2"/><circle cx="-50" cy="20" r="1.2"/><circle cx="60" cy="-20" r="1.2"/><circle cx="95" cy="-20" r="1.2"/><circle cx="160" cy="30" r="1.2"/><circle cx="-120" cy="40" r="1.2"/><circle cx="-5" cy="-45" r="1.2"/><circle cx="130" cy="-58" r="1.2"/><circle cx="-85" cy="-58" r="1.2"/><circle cx="-179" cy="57" r="1.2"/><circle cx="-176" cy="55" r="1.2"/><circle cx="-100" cy="-5" r="1.2"/><circle cx="-104" cy="2" r="1.2"/><circle cx="-62" cy="-2" r="1.2"/>
</g>
<use href="#land"/>
<use href="#seas"/>
</g>
</g>
<rect x="1018.5" y="24.5" width="942" height="519" fill="none" stroke="#9a9a9a" stroke-width="1"/>
<g stroke="#000" stroke-width="4" fill="none">
<line x1="1023" y1="27" x2="1956" y2="27" stroke-dasharray="25.917 25.917" stroke-dashoffset="25.917"/>
<line x1="1023" y1="541" x2="1956" y2="541" stroke-dasharray="25.917 25.917" stroke-dashoffset="25.917"/>
<line x1="1021" y1="28" x2="1021" y2="539" stroke-dasharray="28.4 28.4"/>
<line x1="1958" y1="28" x2="1958" y2="539" stroke-dasharray="28.4 28.4"/>
</g>
<text x="1727" y="141" font-family="Liberation Sans, Arial, sans-serif" font-size="42" fill="#fff">(b)</text>

<g class="lab" text-anchor="end">
<text x="68" y="122">60°N</text>
<text x="68" y="207">30°N</text>
<text x="68" y="292">EQ</text>
<text x="68" y="377">30°S</text>
<text x="68" y="462">60°S</text>
</g>
<g class="lab" text-anchor="middle">
<text x="77" y="569">180°W</text>
<text x="311" y="569">90°W</text>
<text x="545" y="569">0°</text>
<text x="777" y="569">90°E</text>
<text x="1022" y="569">180°W</text>
<text x="1255" y="569">90°W</text>
<text x="1489" y="569">0°</text>
<text x="1722" y="569">90°E</text>
<text x="1953" y="569">180°E</text>
</g>

<polygon points="1981,30 1995.5,22 2010,30 2010,540 1995.5,548 1981,540" fill="url(#cg)" stroke="#8a8a8a" stroke-width="1"/>
<g stroke="#333" stroke-width="1.5">
<line x1="1981" y1="81" x2="1987" y2="81"/><line x1="2004" y1="81" x2="2010" y2="81"/>
<line x1="1981" y1="183" x2="1987" y2="183"/><line x1="2004" y1="183" x2="2010" y2="183"/>
<line x1="1981" y1="285" x2="1987" y2="285"/><line x1="2004" y1="285" x2="2010" y2="285"/>
<line x1="1981" y1="387" x2="1987" y2="387"/><line x1="2004" y1="387" x2="2010" y2="387"/>
<line x1="1981" y1="489" x2="1987" y2="489"/><line x1="2004" y1="489" x2="2010" y2="489"/>
</g>
<g class="lab" style="font-size:21px">
<text x="2017" y="89">20</text>
<text x="2017" y="191">10</text>
<text x="2017" y="293">0</text>
<text x="2015" y="395">-10</text>
<text x="2015" y="497">-20</text>
</g>
<text transform="translate(1975,478) rotate(-90)" text-anchor="middle" font-family="Liberation Sans, Arial, sans-serif" font-style="italic" font-size="14" fill="#000">Ocean Data View</text>
</svg>
</body></html>
